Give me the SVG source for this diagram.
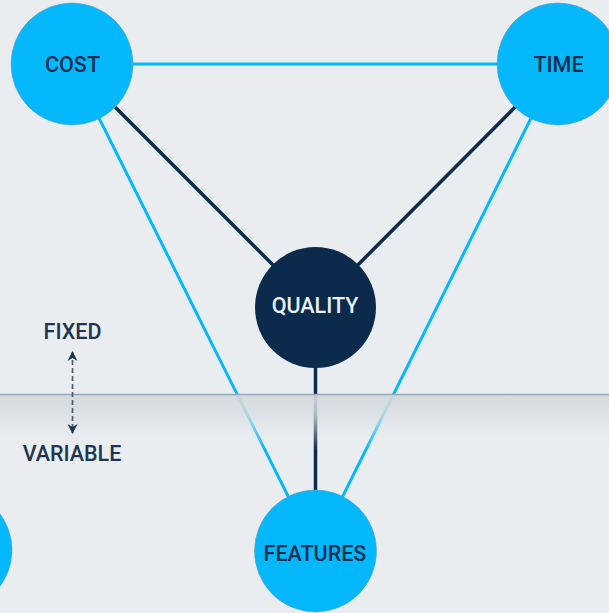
<svg xmlns="http://www.w3.org/2000/svg" width="609" height="613" viewBox="0 0 609 613">
  <defs>
    <linearGradient id="fade" x1="0" y1="0" x2="0" y2="1">
      <stop offset="0" stop-color="#d2d8dc" stop-opacity="0.95"/>
      <stop offset="0.35" stop-color="#d9dee2" stop-opacity="0.8"/>
      <stop offset="1" stop-color="#e9edf0" stop-opacity="0"/>
    </linearGradient>
    <marker id="ah" viewBox="0 0 10 10" refX="9" refY="5" markerWidth="10" markerHeight="12" markerUnits="userSpaceOnUse" orient="auto-start-reverse">
      <path d="M0,0 L10,5 L0,10 L3,5 Z" fill="#1f3550"/>
    </marker>
    <style>
      .blue { stroke: #05b7fb; stroke-width: 3; fill: none; }
      .dark { stroke: #0c2a4b; stroke-width: 3.5; fill: none; }
      .bn { fill: #05b7fb; stroke: #5c9fc4; stroke-width: 0.6; }
      .qn { fill: #0c2a4b; }
      .lbl { font-family: Roboto, "Liberation Sans", sans-serif; font-weight: 500; font-size: 21.5px; text-anchor: middle; }
      .dl { fill: #0f2f52; }
      .wl { fill: #e9f0f6; }
      .side { font-family: Roboto, "Liberation Sans", sans-serif; font-weight: 500; font-size: 21.5px; text-anchor: middle; fill: #1f3550; }
    </style>
  </defs>
  <rect width="609" height="613" fill="#e9edf0"/>
  <g id="connectors">
    <line class="blue" x1="72" y1="64" x2="558" y2="64"/>
    <line class="blue" x1="72" y1="64" x2="315.5" y2="551"/>
    <line class="blue" x1="558" y1="64" x2="315.5" y2="551"/>
    <line class="dark" x1="72" y1="64" x2="315.5" y2="307.5"/>
    <line class="dark" x1="558" y1="64" x2="315.5" y2="307.5"/>
    <line class="dark" x1="315.5" y1="307.5" x2="315.5" y2="551"/>
  </g>
  <g id="horizon">
    <rect x="0" y="395" width="609" height="55" fill="url(#fade)"/>
    <line x1="0" y1="394.5" x2="609" y2="394.5" stroke="#97a9b9" stroke-width="1.5"/>
  </g>
  <g id="scale">
    <line x1="72.5" y1="352" x2="72.5" y2="433" stroke="#4c5c6c" stroke-width="1.7" stroke-dasharray="5,3" marker-start="url(#ah)" marker-end="url(#ah)"/>
    <text class="side" x="72.5" y="339">FIXED</text>
    <text class="side" x="72" y="461">VARIABLE</text>
  </g>
  <g id="cost">
    <circle class="bn" cx="72" cy="64" r="61"/>
    <text class="lbl dl" x="72.5" y="72">COST</text>
  </g>
  <g id="time">
    <circle class="bn" cx="558" cy="64" r="61"/>
    <text class="lbl dl" x="558.5" y="72">TIME</text>
  </g>
  <g id="quality">
    <circle class="qn" cx="315.5" cy="307.5" r="60.5"/>
    <text class="lbl wl" x="315" y="313">QUALITY</text>
  </g>
  <g id="features">
    <circle class="bn" cx="315.5" cy="551" r="61"/>
    <text class="lbl dl" x="315" y="561">FEATURES</text>
  </g>
  <g id="partial">
    <circle class="bn" cx="-49" cy="550" r="61"/>
  </g>
</svg>
